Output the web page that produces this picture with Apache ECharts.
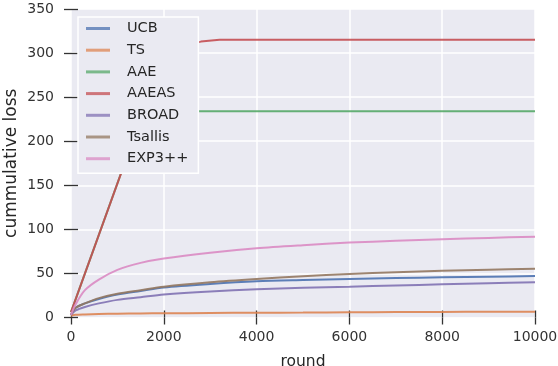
<!DOCTYPE html>
<html>
<head>
<meta charset="utf-8">
<script src="https://cdn.jsdelivr.net/npm/echarts@6/dist/echarts.min.js"></script>
<style>
html, body { margin: 0; padding: 0; background: #fff; }
#chart { width: 558px; height: 366px; }
</style>
</head>
<body>
<div id="chart"></div>
<script>
// values
var rounds = [0, 100, 300, 600, 1000, 1500, 2000, 3000, 4000, 5000, 6000, 7000, 8000, 9000, 10000];
var ucb = [3, 11, 16, 21, 26, 30, 34, 38, 41, 42.5, 43.7, 44.8, 45.6, 46.3, 47];
var ts = [2, 3, 3.5, 4, 4.3, 4.6, 4.8, 5.1, 5.4, 5.6, 5.9, 6.1, 6.3, 6.5, 6.6];
var broad = [3, 8, 12, 16, 20, 23, 26, 29.5, 32, 33.8, 35, 36.4, 37.6, 38.8, 40];
var tsallis = [3, 11, 16, 22, 27, 31, 35, 40, 43.7, 46.8, 49.4, 51.3, 53, 54.3, 55.4];
var exp3 = [3, 15, 31, 43, 54, 62, 67, 73.5, 78.5, 82, 85, 87, 88.7, 90.3, 91.7];

var aaeRounds = [0, 1560, 10000];
var aae = [6, 234, 234];
var aaeasRounds = [0, 2000, 2400, 2800, 3200, 10000];
var aaeas = [6, 298, 308, 313, 315, 315];

var names = ['UCB', 'TS', 'AAE', 'AAEAS', 'BROAD', 'Tsallis', 'EXP3++'];
var colors = ['#4C72B0', '#DD8452', '#55A868', '#C44E52', '#8172B3', '#937860', '#DA8BC3'];

function pairs(xs, ys) {
	return xs.map(function(x, i) { return [x, ys[i]]; });
}

var seriesData = [
	pairs(rounds, ucb),
	pairs(rounds, ts),
	pairs(aaeRounds, aae),
	pairs(aaeasRounds, aaeas),
	pairs(rounds, broad),
	pairs(rounds, tsallis),
	pairs(rounds, exp3)
];

var tickStyle = {show: true, inside: false, length: 7, lineStyle: {color: '#333', width: 1.3}};

var myChart = echarts.init(document.getElementById('chart'));

var option = {
	animation: false,
	color: colors,
	grid: {
		left: 71, right: 23, top: 9, bottom: 48.5,
		outerBoundsMode: 'none',
		containLabel: false,
		show: true, backgroundColor: '#EAEAF2', borderWidth: 0
	},
	legend: {
		orient: 'vertical',
		left: 78, top: 17,
		backgroundColor: '#EAEAF2',
		borderColor: '#ffffff',
		borderWidth: 1.5,
		borderRadius: 0,
		padding: [4, 10, 7, 8],
		itemWidth: 24,
		itemHeight: 3,
		itemGap: 6.7,
		icon: 'rect',
		itemStyle: {opacity: 0.75},
		textStyle: {
			fontFamily: 'DejaVu Sans', fontSize: 14.5, color: '#262626',
			lineHeight: 14, padding: [0, 0, 0, 12]
		},
		data: names
	},
	xAxis: [{
		type: 'value', min: 0, max: 10000, interval: 2000,
		name: 'round', nameLocation: 'middle', nameGap: 36,
		nameMoveOverlap: false,
		nameTextStyle: {fontFamily: 'DejaVu Sans', fontSize: 15.5, color: '#262626'},
		axisLine: {show: false},
		axisTick: tickStyle,
		axisLabel: {
			fontFamily: 'DejaVu Sans', fontSize: 14, color: '#333', margin: 13,
			formatter: function(v) { return String(v); }
		},
		splitLine: {show: true, lineStyle: {color: '#fff', width: 1.5}}
	}, {
		type: 'value', position: 'top', min: 0, max: 10000, interval: 2000,
		axisLine: {show: false}, axisTick: tickStyle,
		axisLabel: {show: false}, splitLine: {show: false}
	}],
	yAxis: [{
		type: 'value', min: 0, max: 350, interval: 50,
		name: 'cummulative loss', nameLocation: 'middle', nameGap: 51,
		nameMoveOverlap: false,
		nameTextStyle: {fontFamily: 'DejaVu Sans', fontSize: 17, color: '#262626'},
		axisLine: {show: false},
		axisTick: tickStyle,
		axisLabel: {fontFamily: 'DejaVu Sans', fontSize: 14, color: '#333', margin: 17},
		splitLine: {show: true, lineStyle: {color: '#fff', width: 1.5}}
	}, {
		type: 'value', position: 'right', min: 0, max: 350, interval: 50,
		axisLine: {show: false}, axisTick: tickStyle,
		axisLabel: {show: false}, splitLine: {show: false}
	}],
	series: names.map(function(n, i) {
		var curved = (n !== 'AAE' && n !== 'AAEAS');
		return {
			name: n,
			type: 'line',
			data: seriesData[i],
			showSymbol: false,
			symbol: 'none',
			smooth: curved ? 0.3 : false,
			lineStyle: {width: 2, color: colors[i], opacity: 0.9}
		};
	})
};

myChart.setOption(option);
</script>
</body>
</html>
